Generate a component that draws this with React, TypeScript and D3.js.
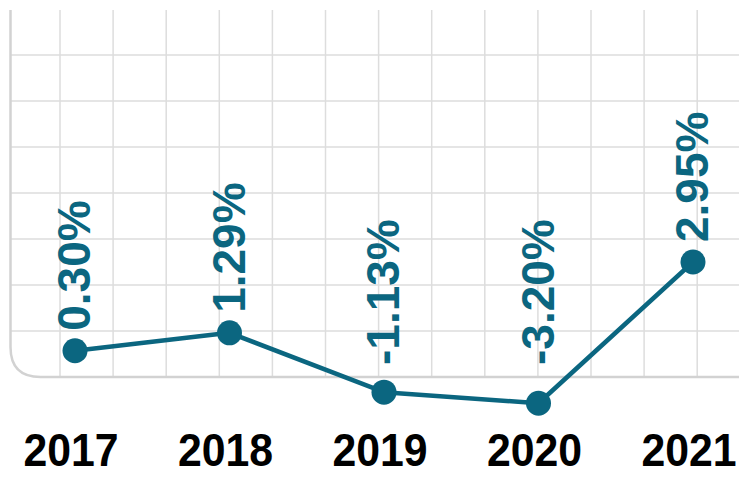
import React from "react";
import * as d3 from "d3";

const years = ["2017", "2018", "2019", "2020", "2021"];
// plotted level of each point (chart units; one unit = one horizontal grid step)
const seriesValues = [0.57, 0.96, -0.33, -0.57, 2.5];
const valueLabels = ["0.30%", "1.29%", "-1.13%", "-3.20%", "2.95%"];

const W = 739;
const H = 477;
const TEAL = "#0b6680";
const GRID = "#dddddd";
const BORDER = "#d2d2d2";

export default function App() {
  const plotLeft = 10.5;
  const plotTop = 10;
  const plotBottom = 377;
  const plotRight = W;

  const x = d3.scalePoint<string>().domain(years).range([75, 693]);
  const y = d3.scaleLinear().domain([0, 8]).range([plotBottom, plotBottom - 8 * 46]);

  const hTicks = d3.range(1, 8);
  const vStep = 53.1;
  const vLines = d3.range(0, 13).map((k) => 60 + k * vStep);

  const line = d3
    .line<number>()
    .x((_, i) => x(years[i]) as number)
    .y((d) => y(d));

  const r = 30;
  const borderPath = `M${plotLeft},${plotTop} L${plotLeft},${plotBottom - r} Q${plotLeft},${plotBottom} ${plotLeft + r},${plotBottom} L${plotRight},${plotBottom}`;

  return (
    <svg
      width={W}
      height={H}
      style={{ position: "absolute", left: 0, top: 0, display: "block", background: "#fff" }}
    >
      <g>
        {vLines.map((vx, i) => (
          <line key={"v" + i} x1={vx} x2={vx} y1={plotTop} y2={plotBottom} stroke={GRID} strokeWidth={1.5} />
        ))}
        {hTicks.map((t) => (
          <line key={"h" + t} x1={plotLeft} x2={plotRight} y1={y(t)} y2={y(t)} stroke={GRID} strokeWidth={1.5} />
        ))}
        <path d={borderPath} fill="none" stroke={BORDER} strokeWidth={2.5} />
      </g>
      <path d={line(seriesValues) || ""} fill="none" stroke={TEAL} strokeWidth={4.5} strokeLinejoin="round" />
      {seriesValues.map((v, i) => (
        <circle key={"c" + i} cx={x(years[i]) as number} cy={y(v)} r={12.5} fill={TEAL} />
      ))}
      {seriesValues.map((v, i) => {
        const px = (x(years[i]) as number) + 15;
        const py = Math.min(y(v) - 20, 365);
        return (
          <text
            key={"l" + i}
            transform={`translate(${px},${py}) rotate(-90)`}
            fill={TEAL}
            fontFamily="'Liberation Sans', Arial, sans-serif"
            fontWeight="bold"
            fontSize={46}
            textAnchor="start"
          >
            {valueLabels[i]}
          </text>
        );
      })}
      {years.map((yr) => (
        <text
          key={"y" + yr}
          transform={`translate(${(x(yr) as number) - 4},466) scale(0.91,1)`}
          textAnchor="middle"
          fontFamily="'Liberation Sans', Arial, sans-serif"
          fontWeight="bold"
          fontSize={47}
          fill="#000"
        >
          {yr}
        </text>
      ))}
    </svg>
  );
}
